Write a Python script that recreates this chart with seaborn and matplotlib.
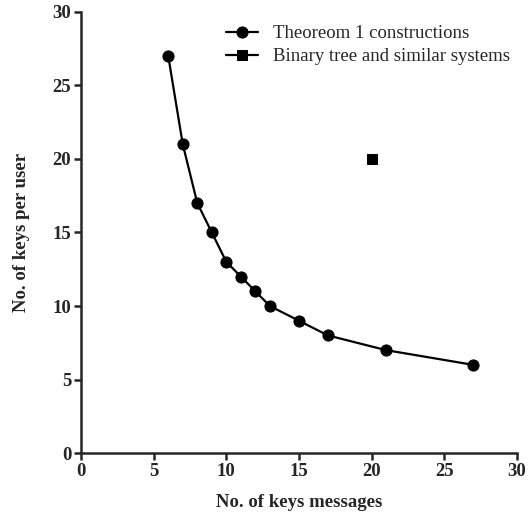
import matplotlib
matplotlib.use("Agg")
import matplotlib.pyplot as plt
import seaborn as sns
import pandas as pd

# data
keys_messages = [6, 7, 8, 9, 10, 11, 12, 13, 15, 17, 21, 27]
keys_per_user = [27, 21, 17, 15, 13, 12, 11, 10, 9, 8, 7, 6]
binary_x = [20]
binary_y = [20]
x_ticks = [0, 5, 10, 15, 20, 25, 30]
y_ticks = [0, 5, 10, 15, 20, 25, 30]

sns.set_style("ticks")
plt.rcParams['font.family'] = ['Liberation Serif', 'DejaVu Serif']
plt.rcParams['font.weight'] = 'bold'

fig = plt.figure(figsize=(5.3, 5.12), dpi=100)
ax = fig.add_axes([0.153, 0.115, 0.822, 0.862])

df1 = pd.DataFrame({"x": keys_messages, "y": keys_per_user})
df2 = pd.DataFrame({"x": binary_x, "y": binary_y})

sns.lineplot(data=df1, x="x", y="y", ax=ax, color="black", marker="o",
             markersize=8, markeredgecolor="black", linewidth=1.6,
             label="Theoreom 1 constructions")
sns.lineplot(data=df2, x="x", y="y", ax=ax, color="black", marker="s",
             markersize=7, markeredgecolor="black", linewidth=1.6,
             label="Binary tree and similar systems")

ax.set_xlim(0, 30)
ax.set_ylim(0, 30)
ax.set_xticks(x_ticks)
ax.set_yticks(y_ticks)
ax.tick_params(labelsize=13.5, width=1.8, length=5, direction="out", pad=2)
for lbl in ax.get_xticklabels() + ax.get_yticklabels():
    lbl.set_fontweight("bold")
ax.set_xlabel("No. of keys messages", fontsize=13.5, fontweight="bold", labelpad=10)
ax.set_ylabel("No. of keys per user", fontsize=13.5, fontweight="bold", labelpad=16)
sns.despine(ax=ax)
for s in ["left", "bottom"]:
    ax.spines[s].set_linewidth(1.8)

leg = ax.legend(loc="upper right", bbox_to_anchor=(1.01, 0.995), frameon=False,
                fontsize=13.5, handlelength=1.7, handletextpad=0.8,
                labelspacing=0.3, borderaxespad=0.2)
for t in leg.get_texts():
    t.set_fontweight("normal")

fig.savefig("out.png", dpi=100)
